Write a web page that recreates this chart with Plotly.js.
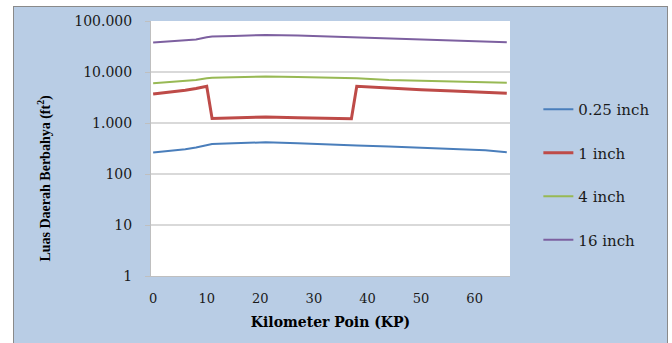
<!DOCTYPE html>
<html>
<head>
<meta charset="utf-8">
<script src="https://cdn.plot.ly/plotly-3.0.1.min.js"></script>
<style>
  html, body { margin: 0; padding: 0; background: #ffffff; width: 672px; height: 343px; overflow: hidden; }
  #frame {
    position: absolute; left: 13px; top: 6px;
    width: 653px; height: 340px;
    border: 1px solid #8a8a8a;
    background: #b9cde5;
  }
  #chart { width: 653px; height: 340px; }
</style>
</head>
<body>
<div id="frame"><div id="chart"></div></div>
<script>
// Kilometer points along the pipeline route
const kp = [0, 3, 6, 8, 10, 11, 15, 21, 27, 33, 37, 38, 44, 50, 56, 62, 66];

// Hazard area (ft²) per hole size
const hole025 = [265, 283, 305, 330, 370, 388, 402, 418, 400, 385, 365, 362, 345, 330, 312, 292, 266];
const hole1   = [3700, 4000, 4400, 4750, 5250, 1230, 1260, 1310, 1270, 1230, 1215, 5240, 4800, 4500, 4250, 4000, 3820];
const hole4   = [6000, 6300, 6700, 7000, 7550, 7750, 7900, 8150, 7950, 7750, 7550, 7500, 7000, 6800, 6600, 6350, 6150];
const hole16  = [37800, 39500, 41800, 43500, 48000, 49800, 51000, 53300, 52000, 49600, 48000, 47500, 44800, 43000, 41500, 39800, 38300];

const seriesNames = ['0.25 inch', '1 inch', '4 inch', '16 inch'];
const seriesValues = [hole025, hole1, hole4, hole16];
const seriesColors = ['#4a7ebb', '#be4b48', '#98b954', '#7d60a0'];
const seriesWidths = [2, 3, 2, 2];

const yTickVals = [1, 10, 100, 1000, 10000, 100000];
const yTickText = ['1', '10', '100', '1.000', '10.000', '100.000'];
const xTickVals = [0, 10, 20, 30, 40, 50, 60];

const traces = seriesNames.map((name, i) => ({
  type: 'scatter',
  mode: 'lines',
  name: name,
  legendgroup: 'g' + i,
  x: kp,
  y: seriesValues[i],
  line: { color: seriesColors[i], width: seriesWidths[i] }
}));

const serif = 'DejaVu Serif, serif';

const layout = {
  width: 653,
  height: 340,
  margin: { l: 137, r: 151, t: 14, b: 71 },
  paper_bgcolor: 'rgba(0,0,0,0)',
  plot_bgcolor: '#ffffff',
  showlegend: true,
  legend: {
    x: 1.079, xanchor: 'left',
    y: 0.718, yanchor: 'top',
    bgcolor: 'rgba(0,0,0,0)',
    font: { family: serif, size: 15, color: '#1a1a1a' },
    tracegroupgap: 21,
    itemwidth: 30
  },
  xaxis: {
    range: [-0.4, 66.6],
    tickvals: xTickVals,
    ticks: '',
    showgrid: false,
    zeroline: false,
    showline: true,
    linecolor: '#bfbfbf',
    linewidth: 1,
    ticklabelstandoff: 10,
    tickfont: { family: serif, size: 13, color: '#1a1a1a' },
    title: {
      text: 'Kilometer Poin (KP)',
      font: { family: 'DejaVu Serif, serif', size: 14, color: '#000000', weight: 'bold' },
      standoff: 12
    }
  },
  yaxis: {
    type: 'log',
    range: [0, 5],
    tickvals: yTickVals,
    ticktext: yTickText,
    ticks: 'outside',
    ticklen: 5,
    tickcolor: '#bfbfbf',
    showgrid: true,
    gridcolor: '#d9d9d9',
    gridwidth: 1.5,
    zeroline: false,
    showline: true,
    linecolor: '#bfbfbf',
    linewidth: 1,
    ticklabelstandoff: 10,
    tickfont: { family: serif, size: 14, color: '#1a1a1a' }
  },
  // Vertical axis caption, set a little below the plot's midline
  annotations: [{
    text: 'Luas Daerah Berbahya (ft<sup>2</sup>)',
    xref: 'paper', yref: 'paper',
    x: -0.296, y: 0.385,
    xanchor: 'center', yanchor: 'middle',
    textangle: -90,
    showarrow: false,
    font: { family: 'Liberation Serif, serif', size: 14, color: '#000000', weight: 'bold' }
  }]
};

Plotly.newPlot('chart', traces, layout, { staticPlot: true, displayModeBar: false });
</script>
</body>
</html>
